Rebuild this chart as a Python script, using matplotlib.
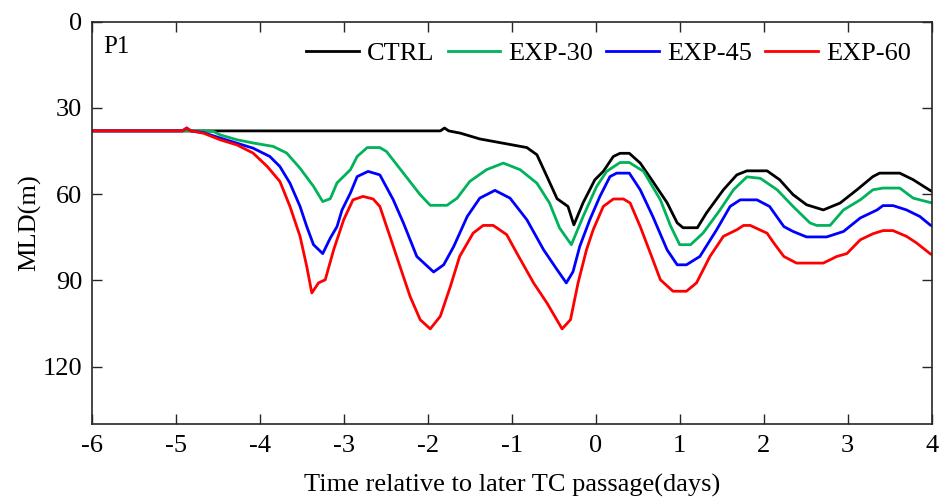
import numpy as np
import matplotlib
matplotlib.use("Agg")
import matplotlib.pyplot as plt

# =========================================================
# DATA
# =========================================================
ctrl_t = [-6, -1.85, -1.8, -1.75, -1.61, -1.38, -1.10, -0.82, -0.70, -0.58,
          -0.46, -0.33, -0.26, -0.15, -0.01, 0.09, 0.21, 0.29, 0.40, 0.53,
          0.68, 0.85, 0.97, 1.04, 1.21, 1.32, 1.52, 1.68, 1.80, 2.04,
          2.19, 2.35, 2.51, 2.71, 2.91, 3.11, 3.30, 3.38, 3.62, 3.78, 3.98, 4.0]
ctrl_mld = [38, 38, 37, 38, 38.8, 40.8, 42.3, 43.8, 46.3, 53.9,
            61.6, 64.3, 70.7, 63, 55, 52.1, 46.9, 45.8, 45.8, 49.2,
            55.6, 63, 70, 71.7, 71.7, 66.5, 58.5, 53.3, 51.9, 51.9,
            55, 60.2, 63.7, 65.5, 63.1, 58.5, 53.9, 52.7, 52.7, 55, 58.7, 59]

exp30_t = [-6, -4.85, -4.7, -4.55, -4.47, -4.27, -4.08, -3.84, -3.68, -3.52,
           -3.36, -3.25, -3.16, -3.08, -2.92, -2.84, -2.72, -2.57, -2.49, -2.29,
           -2.09, -1.97, -1.77, -1.65, -1.50, -1.30, -1.10, -0.90, -0.70, -0.55,
           -0.43, -0.29, -0.15, 0.01, 0.13, 0.29, 0.40, 0.57, 0.77, 0.89,
           1.00, 1.13, 1.28, 1.48, 1.64, 1.80, 1.96, 2.16, 2.35, 2.55,
           2.63, 2.79, 2.95, 3.15, 3.30, 3.42, 3.62, 3.78, 3.98, 4.0]
exp30_mld = [38, 38, 38, 38.2, 39.4, 41.1, 42.2, 43.4, 45.7, 51,
             57.3, 62.6, 61.6, 56.1, 51.5, 46.9, 43.8, 43.8, 45.2, 52.7,
             60.2, 63.9, 63.9, 61.4, 55.6, 51.5, 49.2, 51.5, 56.2, 63.1,
             71.8, 77.6, 67.8, 57.4, 52.1, 49, 49, 52.1, 62, 71,
             77.6, 77.6, 73.5, 65.5, 58.5, 54, 54.5, 58.5, 64.3, 70,
             70.9, 70.9, 65.5, 62, 58.5, 57.9, 57.9, 61.4, 62.9, 63]

exp45_t = [-6, -4.92, -4.87, -4.82, -4.67, -4.47, -4.27, -4.08, -3.88, -3.76,
           -3.64, -3.52, -3.44, -3.36, -3.25, -3.16, -3.08, -3.02, -2.92, -2.84,
           -2.71, -2.57, -2.41, -2.29, -2.13, -1.93, -1.81, -1.69, -1.53, -1.38,
           -1.20, -1.02, -0.82, -0.62, -0.46, -0.35, -0.27, -0.19, -0.07, 0.05,
           0.17, 0.25, 0.40, 0.53, 0.68, 0.85, 0.97, 1.08, 1.24, 1.44,
           1.60, 1.72, 1.92, 2.07, 2.24, 2.35, 2.51, 2.75, 2.95, 3.15,
           3.35, 3.42, 3.54, 3.70, 3.86, 3.98, 4.0]
exp45_mld = [38, 38, 37, 38, 38.6, 40.5, 42.3, 44, 46.9, 50.4,
             56.2, 64.3, 71.3, 77.6, 80.7, 75.3, 71.3, 65.5, 59.6, 53.9,
             52.1, 53.3, 62, 70, 81.7, 87.1, 84.6, 78.2, 67.8, 61.4,
             58.7, 61.4, 68.9, 79.4, 86.3, 90.9, 87, 78.2, 68.9, 60.8,
             53.9, 52.7, 52.7, 58.5, 67.8, 79.4, 84.6, 84.6, 81.7, 72.4,
             64.3, 62, 62, 64.3, 71.3, 73, 74.9, 74.9, 73, 68.3,
             65.5, 64, 64, 65.5, 67.8, 70.7, 71]

exp60_t = [-6, -4.92, -4.87, -4.82, -4.67, -4.47, -4.27, -4.08, -3.91, -3.76,
           -3.64, -3.52, -3.44, -3.38, -3.30, -3.22, -3.12, -3.00, -2.89, -2.77,
           -2.65, -2.57, -2.45, -2.33, -2.21, -2.09, -1.97, -1.85, -1.73, -1.62,
           -1.46, -1.34, -1.22, -1.06, -0.94, -0.74, -0.58, -0.40, -0.30, -0.21,
           -0.11, -0.03, 0.09, 0.21, 0.33, 0.41, 0.53, 0.65, 0.77, 0.92,
           1.08, 1.20, 1.36, 1.52, 1.68, 1.76, 1.84, 2.04, 2.12, 2.24,
           2.39, 2.71, 2.87, 2.99, 3.15, 3.30, 3.42, 3.54, 3.70, 3.82, 3.98, 4.0]
exp60_mld = [38, 38, 37, 38, 38.8, 41.1, 42.9, 45.7, 50.4, 55.6,
             64.3, 74.7, 85.2, 94.4, 90.9, 89.8, 79.4, 68.9, 62, 60.8,
             61.7, 64.3, 74.7, 85.2, 95.6, 103.7, 106.9, 102.5, 92.1, 81.7,
             73.6, 70.9, 70.9, 74.1, 80.5, 90.9, 97.9, 106.9, 103.7, 90.9,
             79.4, 72.4, 64.3, 61.7, 61.7, 63.1, 71.3, 80.5, 89.8, 93.8,
             93.8, 90.9, 81.7, 74.7, 72.4, 70.9, 70.9, 73.6, 77, 81.7,
             84, 84, 81.7, 80.7, 75.9, 73.8, 72.7, 72.7, 74.7, 77, 80.7, 81]

labels = ["CTRL", "EXP-30", "EXP-45", "EXP-60"]
colors = ["black", "#00b35a", "#0000ff", "#ff0000"]

# =========================================================
# PLOT
# =========================================================
plt.rcParams["font.family"] = ["Liberation Serif", "DejaVu Serif"]

fig = plt.figure(figsize=(9.41, 5.01), dpi=100)
ax = fig.add_axes([0.0975, 0.1537, 0.8926, 0.803])

series = [(ctrl_t, ctrl_mld), (exp30_t, exp30_mld),
          (exp45_t, exp45_mld), (exp60_t, exp60_mld)]
for (t, mld), lab, c in zip(series, labels, colors):
    ax.plot(t, mld, color=c, lw=2.0, label=lab)

ax.set_xlim(-6, 4)
ax.set_ylim(140, 0)
ax.set_xticks(np.arange(-6, 5, 1))
ax.set_yticks([0, 30, 60, 90, 120])
ax.set_xticklabels([f"{v:d}" for v in range(-6, 5)])

ax.tick_params(direction="in", length=7, width=1.0, top=True, right=True,
               labelsize=19, colors="#262626", labelcolor="black")
ax.tick_params(axis="x", pad=8)
ax.tick_params(axis="y", pad=7)
for sp in ax.spines.values():
    sp.set_linewidth(1.2)
    sp.set_color("#262626")

ax.set_xlabel("Time relative to later TC passage(days)", fontsize=19, labelpad=12)
ax.set_ylabel("MLD(m)", fontsize=19, labelpad=1)

ax.text(0.0135, 0.938, "P1", transform=ax.transAxes, fontsize=18,
        ha="left", va="center")

ax.legend(loc="center right", bbox_to_anchor=(0.975, 0.922), ncol=4,
          frameon=False, fontsize=19, handlelength=2.0, handletextpad=0.3,
          columnspacing=0.5, borderaxespad=0, borderpad=0)

fig.savefig("out.png", dpi=100)
